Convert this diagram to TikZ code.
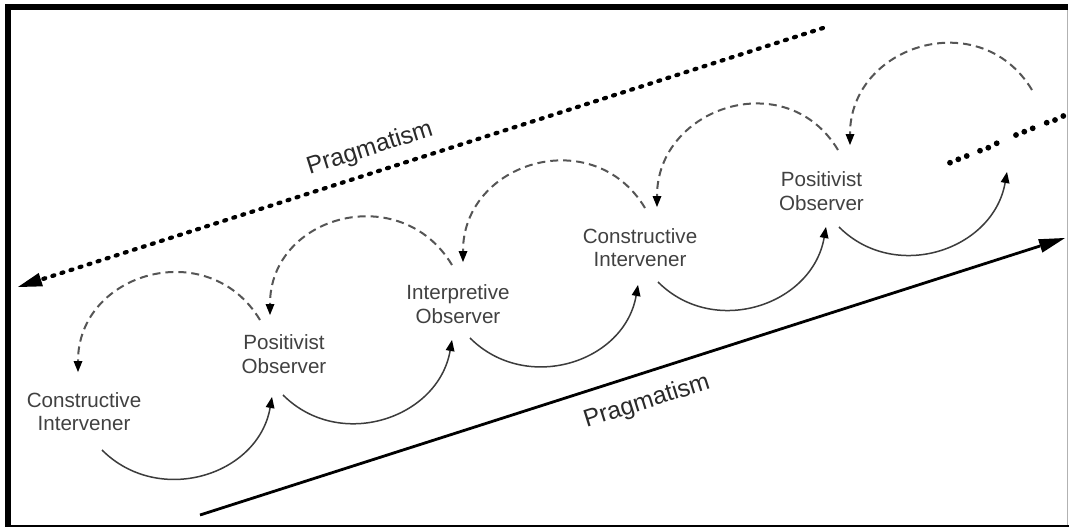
\documentclass[tikz,border=0pt]{standalone}
\usepackage{fontspec}
\setmainfont{Liberation Sans}
\usetikzlibrary{arrows.meta}

\definecolor{labelgray}{HTML}{414141}
\definecolor{praggray}{HTML}{2A2A2A}
\definecolor{forwardgray}{HTML}{3C3C3C}
\definecolor{backgray}{HTML}{555555}

\begin{document}
\begin{tikzpicture}[x=1pt,y=1pt,
  stage/.style={font=\fontsize{20.6}{23.5}\selectfont, text=labelgray,
    align=center, inner sep=0pt},
  paradigm/.style={font=\fontsize{24.5}{29}\selectfont, text=praggray,
    rotate=17.6, inner sep=0pt},
  forward/.style={draw=forwardgray, line width=1.5pt,
    -{Triangle[length=11pt,width=9pt,color=black,line width=0pt]},
    out=-45, in=-100, looseness=1.15},
  backward/.style={draw=backgray, line width=2pt, dash pattern=on 8pt off 5pt,
    -{Triangle[length=11pt,width=9pt,color=black,line width=0pt]},
    out=121, in=90, looseness=1.35},
  moredot/.style={fill=black}]

  % page and frame
  \useasboundingbox (0,0) rectangle (1069,-527);
  \fill[white] (0,0) rectangle (1069,-527);
  \fill[black] (5,-4.5) rectangle (1068,-10);
  \fill[black] (5,-4.5) rectangle (10.5,-527);
  \fill[black] (5,-525.3) rectangle (1069,-527);
  \fill[black!30] (1067,-10) rectangle (1068,-525.3);

  % the two pragmatism axes
  \coordinate (topstart) at (823,-28);
  \coordinate (topend) at (18,-287);
  \draw[line width=4.2pt, dash pattern=on 2pt off 7.5pt, line cap=round,
    -{Triangle[length=24pt,width=14pt,line width=0pt]}] (topstart) -- (topend);
  \coordinate (botstart) at (200,-515);
  \coordinate (botend) at (1065,-238);
  \draw[line width=2.8pt,
    -{Triangle[length=26pt,width=14pt,line width=0pt]}] (botstart) -- (botend);

  \node[paradigm] (prag1) at (370,-149) {Pragmatism};
  \node[paradigm] (prag2) at (647,-402) {Pragmatism};

  % research stances
  \node[stage] (ci1) at (84,-411.5)  {Constructive\\Intervener};
  \node[stage] (po1) at (284,-354)   {Positivist\\Observer};
  \node[stage] (io)  at (458,-304)   {Interpretive\\Observer};
  \node[stage] (ci2) at (640,-247.5) {Constructive\\Intervener};
  \node[stage] (po2) at (821.5,-191) {Positivist\\Observer};
  \coordinate (more) at (1006.5,-139.5);

  % continuation dots
  \foreach \dx/\dy in {-56.5/-23.2,-48.2/-19.8,-39.8/-16.5,
                       -26.5/-11.2,-18.2/-8.2,-9.8/-3.8,
                       9.5/4.5,17.8/7.8,26.2/11.2,
                       40.2/16.8,48.5/19.5,56.8/23.5}
    \fill[moredot] ([shift={(\dx,\dy)}]more) circle (2.9pt);

  % forward moves (solid, underneath)
  \draw[forward] ([shift={(18,-38.5)}]ci1.center) to ([shift={(-12,-43)}]po1.center);
  \draw[forward] ([shift={(-1,-41)}]po1.center)   to ([shift={(-6,-36)}]io.center);
  \draw[forward] ([shift={(12,-34)}]io.center)    to ([shift={(-2,-37.5)}]ci2.center);
  \draw[forward] ([shift={(18,-34.5)}]ci2.center) to ([shift={(4.5,-36)}]po2.center);
  \draw[forward] ([shift={(17.5,-36)}]po2.center) to ([shift={(0.5,-32.5)}]more);

  % backward moves (dashed, above)
  \draw[backward] ([shift={(-24,34)}]po1.center)   to ([shift={(-6,39.5)}]ci1.center);
  \draw[backward] ([shift={(-6,39)}]io.center)     to ([shift={(-14,39)}]po1.center);
  \draw[backward] ([shift={(5,39.5)}]ci2.center)   to ([shift={(5,42)}]io.center);
  \draw[backward] ([shift={(16.5,41)}]po2.center)  to ([shift={(17,40.5)}]ci2.center);
  \draw[backward] ([shift={(25.5,49.5)}]more)      to ([shift={(28.5,46)}]po2.center);
\end{tikzpicture}
\end{document}
